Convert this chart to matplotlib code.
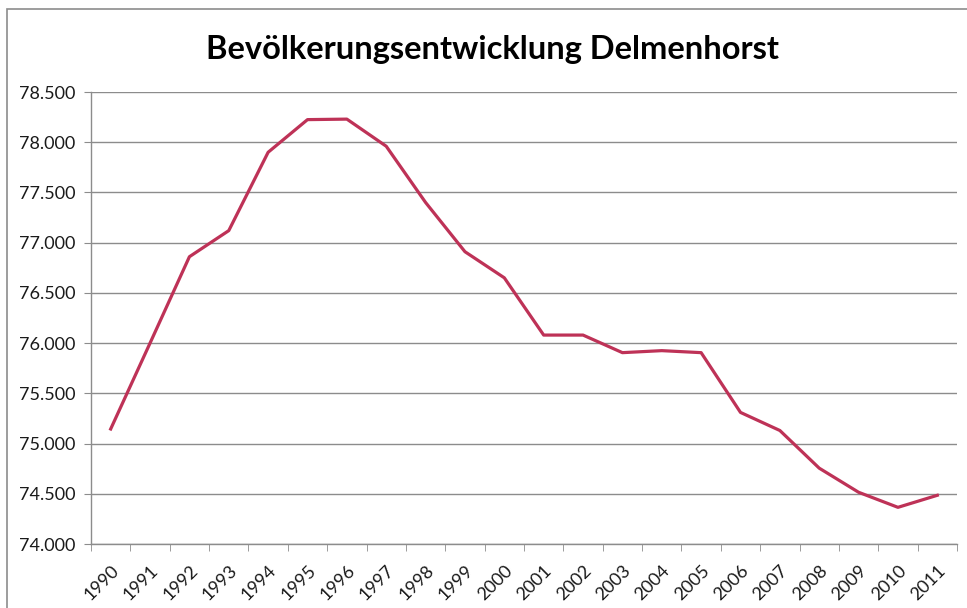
'''Bevölkerungsentwicklung Delmenhorst - line chart'''

import matplotlib
matplotlib.use('Agg')
import matplotlib.pyplot as plt
from matplotlib.patches import Rectangle
from matplotlib.ticker import FuncFormatter, FixedLocator
from matplotlib.transforms import ScaledTranslation

years = ['1990', '1991', '1992', '1993', '1994', '1995', '1996', '1997',
         '1998', '1999', '2000', '2001', '2002', '2003', '2004', '2005',
         '2006', '2007', '2008', '2009', '2010', '2011']

population = [75145, 76000, 76860, 77120, 77900, 78225, 78230, 77960,
              77400, 76910, 76650, 76080, 76080, 75905, 75925, 75905,
              75310, 75130, 74755, 74515, 74365, 74485]

y_ticks = [74000, 74500, 75000, 75500, 76000, 76500, 77000, 77500, 78000, 78500]

title = 'Bevölkerungsentwicklung Delmenhorst'

line_color = '#BE3257'
grid_color = '#8C8C8C'
font = 'Lato'


def de_thousands(v, pos):
    return '{:,.0f}'.format(v).replace(',', '.')


fig = plt.figure(figsize=(9.67, 6.08), dpi=100)
fig.patch.set_facecolor('white')

# chart area border (cut at right/bottom like the screenshot)
fig.patches.append(Rectangle((7 / 967, -0.1), 1.2, 1.1 - 9 / 608,
                             transform=fig.transFigure, fill=False,
                             edgecolor='#8C8C8C', linewidth=1.2))

ax = fig.add_axes([91 / 967, 64 / 608, 866 / 967, 452 / 608])

x = list(range(len(years)))
ax.plot(x, population, color=line_color, linewidth=2.3,
        solid_joinstyle='round', zorder=3)

ax.set_xlim(-0.5, len(years) - 0.5)
ax.set_ylim(y_ticks[0], y_ticks[-1])

ax.yaxis.set_major_locator(FixedLocator(y_ticks))
ax.yaxis.set_major_formatter(FuncFormatter(de_thousands))
ax.grid(axis='y', color=grid_color, linewidth=1.0)
ax.set_axisbelow(True)

ax.set_xticks(x)
ax.set_xticklabels(years, rotation=45, ha='right', rotation_mode='anchor',
                   fontname=font, fontsize=13, color='#1A1A1A')
shift = ScaledTranslation(5 / 100, 0, fig.dpi_scale_trans)
for lab in ax.get_xticklabels():
    lab.set_transform(lab.get_transform() + shift)
ax.set_xticks([i - 0.5 for i in range(len(years) + 1)], minor=True)
ax.tick_params(axis='x', which='major', length=0, pad=13)
ax.tick_params(axis='x', which='minor', length=5, color=grid_color, direction='out')
ax.tick_params(axis='y', length=5, color=grid_color, direction='out', pad=6)
for lab in ax.get_yticklabels():
    lab.set_fontname(font)
    lab.set_fontsize(13)
    lab.set_color('#1A1A1A')

for side in ['top', 'right']:
    ax.spines[side].set_visible(False)
for side in ['left', 'bottom']:
    ax.spines[side].set_color(grid_color)
    ax.spines[side].set_linewidth(1.0)

fig.text(492 / 967, 1 - 49 / 608, title, ha='center', va='center',
         fontname=font, fontweight='bold', fontsize=23.5, color='black')

fig.savefig('out.png', dpi=100)
